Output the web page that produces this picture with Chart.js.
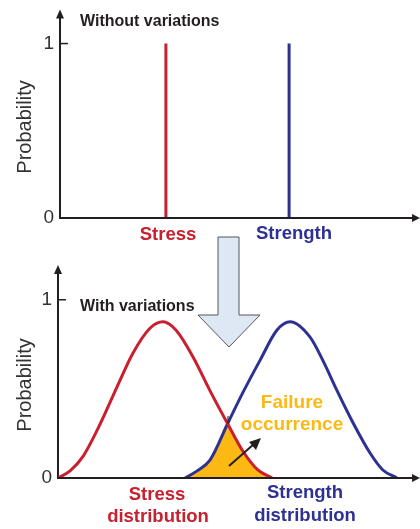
<!DOCTYPE html>
<html>
<head>
<meta charset="utf-8">
<script src="https://cdn.jsdelivr.net/npm/chart.js@4.4.1/dist/chart.umd.min.js"></script>
<style>
  body { margin: 0; background: #fff; }
  #wrap { position: relative; width: 420px; height: 529px; }
  #wrap canvas { position: absolute; left: 0; top: 0; }
</style>
</head>
<body>
<div id="wrap">
  <canvas id="topChart" width="420" height="529"></canvas>
  <canvas id="bottomChart" width="420" height="529"></canvas>
</div>
<script>
const yTicks = [0, 1];
const yMax = 1.15;

// top panel: no variation, one value each
const stressX = 30.0;
const strengthX = 64.9;
const spikeYs = [0, 1];

// bottom panel: distributions
const stressXs = [0, 3.4, 7.0, 11.8, 16.6, 21.1, 25.9, 29.6, 33.2, 38.0, 42.8, 47.9, 52.1, 56.3, 60.3];
const stressYs = [0, 0.04, 0.12, 0.30, 0.51, 0.70, 0.84, 0.876, 0.83, 0.68, 0.49, 0.30, 0.15, 0.045, 0];
const strengthXs = [35.8, 39.2, 42.8, 47.9, 52.1, 56.9, 61.7, 65.4, 71.0, 74.6, 78.6, 83.1, 87.9, 91.5, 95.5];
const strengthYs = [0, 0.04, 0.10, 0.31, 0.48, 0.66, 0.83, 0.876, 0.79, 0.66, 0.49, 0.31, 0.14, 0.045, 0];

const RED = '#c8202f', BLUE = '#2e3192', YEL = '#fdb913', INK = '#231f20', GREY = '#333';
const FONT = '"Liberation Sans", Arial, sans-serif';

const pts = (xs, ys) => xs.map((x, i) => ({x, y: ys[i]}));

// x axis line, arrow heads and the inner tick at 1
const axesArrows = {
  id: 'axesArrows',
  afterDraw(chart) {
    const {ctx, chartArea: a, scales: {y}} = chart;
    const y0 = y.getPixelForValue(0), y1 = y.getPixelForValue(1);
    ctx.save();
    ctx.strokeStyle = INK; ctx.fillStyle = INK; ctx.lineWidth = 2;
    ctx.beginPath(); ctx.moveTo(a.left, y0); ctx.lineTo(a.right + 1, y0); ctx.stroke();
    ctx.beginPath(); ctx.moveTo(a.right + 7, y0); ctx.lineTo(a.right - 1, y0 - 4); ctx.lineTo(a.right - 1, y0 + 4); ctx.closePath(); ctx.fill();
    ctx.beginPath(); ctx.moveTo(a.left, a.top - 8); ctx.lineTo(a.left - 4, a.top + 1); ctx.lineTo(a.left + 4, a.top + 1); ctx.closePath(); ctx.fill();
    ctx.lineWidth = 1.5;
    ctx.beginPath(); ctx.moveTo(a.left, y1); ctx.lineTo(a.left + 8, y1); ctx.stroke();
    ctx.restore();
  }
};

function text(ctx, s, x, y, color, size, bold, align) {
  ctx.fillStyle = color;
  ctx.font = (bold ? 'bold ' : '') + size + 'px ' + FONT;
  ctx.textAlign = align || 'center';
  ctx.textBaseline = 'middle';
  ctx.fillText(s, x, y);
}

function yTitle(ctx, cx, cy) {
  ctx.save();
  ctx.translate(cx, cy);
  ctx.rotate(-Math.PI / 2);
  text(ctx, 'Probability', 0, 0, GREY, 20, false);
  ctx.restore();
}

const topLabels = {
  id: 'topLabels',
  afterDraw(chart) {
    const ctx = chart.ctx;
    ctx.save();
    text(ctx, 'Without variations', 80, 22, INK, 16, true, 'left');
    text(ctx, 'Stress', 168, 235, RED, 18.5, true);
    text(ctx, 'Strength', 294, 234, BLUE, 18.5, true);
    yTitle(ctx, 25, 127);
    ctx.restore();
  }
};

// yellow overlap: area under stress clipped to area under strength
const overlapFill = {
  id: 'overlapFill',
  beforeDatasetsDraw(chart) {
    const {ctx, chartArea} = chart;
    const y0 = chart.scales.y.getPixelForValue(0);
    const lines = [0, 1].map(i => chart.getDatasetMeta(i).dataset);
    lines.forEach(l => l.updateControlPoints(chartArea, 'x'));
    const area = l => {
      const p = l.points;
      ctx.beginPath();
      if (typeof l.path === 'function') l.path(ctx);
      else p.forEach((q, i) => i ? ctx.lineTo(q.x, q.y) : ctx.moveTo(q.x, q.y));
      ctx.lineTo(p[p.length - 1].x, y0);
      ctx.lineTo(p[0].x, y0);
      ctx.closePath();
    };
    ctx.save();
    area(lines[1]);
    ctx.clip();
    area(lines[0]);
    ctx.fillStyle = YEL;
    ctx.fill();
    ctx.restore();
  }
};

const bottomLabels = {
  id: 'bottomLabels',
  afterDraw(chart) {
    const ctx = chart.ctx;
    ctx.save();
    text(ctx, 'With variations', 80, 307, INK, 16, true, 'left');
    yTitle(ctx, 25, 385);
    text(ctx, 'Failure', 292, 403, YEL, 19, true);
    text(ctx, 'occurrence', 292, 425, YEL, 19, true);
    text(ctx, 'Stress', 157, 495, RED, 18.5, true);
    text(ctx, 'distribution', 158, 517, RED, 18.5, true);
    text(ctx, 'Strength', 305, 493, BLUE, 18.5, true);
    text(ctx, 'distribution', 305, 516, BLUE, 18.5, true);

    // small pointer arrow
    ctx.strokeStyle = INK; ctx.fillStyle = INK; ctx.lineWidth = 2;
    ctx.beginPath(); ctx.moveTo(229, 466); ctx.lineTo(254, 444); ctx.stroke();
    ctx.beginPath(); ctx.moveTo(261, 438); ctx.lineTo(249, 442); ctx.lineTo(256, 450); ctx.closePath(); ctx.fill();
    // tick above the crossing
    ctx.lineWidth = 1;
    ctx.beginPath(); ctx.moveTo(228, 416); ctx.lineTo(228, 424); ctx.stroke();

    // big block arrow between the panels
    ctx.beginPath();
    ctx.moveTo(218, 237); ctx.lineTo(239, 237); ctx.lineTo(239, 315); ctx.lineTo(260, 315);
    ctx.lineTo(229, 347); ctx.lineTo(198, 315); ctx.lineTo(218, 315); ctx.closePath();
    ctx.fillStyle = '#dee8f5'; ctx.fill();
    ctx.strokeStyle = '#555'; ctx.lineWidth = 1; ctx.stroke();
    ctx.restore();
  }
};

function scales(leftW) {
  return {
    x: { type: 'linear', min: 0, max: 100, display: false },
    y: {
      min: 0, max: yMax,
      afterFit(s) { s.width = leftW; },
      afterBuildTicks(s) { s.ticks = yTicks.map(v => ({value: v})); },
      grid: { display: false, drawTicks: false },
      border: { display: true, color: INK, width: 2 },
      ticks: { color: GREY, font: { size: 19, family: FONT }, padding: 6 }
    }
  };
}

const common = {
  responsive: false,
  animation: false,
  plugins: { legend: { display: false }, tooltip: { enabled: false } },
  elements: { point: { radius: 0 } }
};

new Chart(document.getElementById('topChart'), {
  type: 'line',
  data: {
    datasets: [
      { data: spikeYs.map(v => ({x: stressX, y: v})), borderColor: RED, borderWidth: 3 },
      { data: spikeYs.map(v => ({x: strengthX, y: v})), borderColor: BLUE, borderWidth: 3 }
    ]
  },
  options: Object.assign({}, common, {
    layout: { padding: { left: 0, right: 7, top: 15.6, bottom: 311 } },
    scales: scales(60)
  }),
  plugins: [axesArrows, topLabels]
});

new Chart(document.getElementById('bottomChart'), {
  type: 'line',
  data: {
    datasets: [
      { data: pts(stressXs, stressYs), borderColor: RED, borderWidth: 3, cubicInterpolationMode: 'monotone' },
      { data: pts(strengthXs, strengthYs), borderColor: BLUE, borderWidth: 3, cubicInterpolationMode: 'monotone' }
    ]
  },
  options: Object.assign({}, common, {
    layout: { padding: { left: 0, right: 7, top: 273, bottom: 51 } },
    scales: scales(58)
  }),
  plugins: [overlapFill, axesArrows, bottomLabels]
});
</script>
</body>
</html>
